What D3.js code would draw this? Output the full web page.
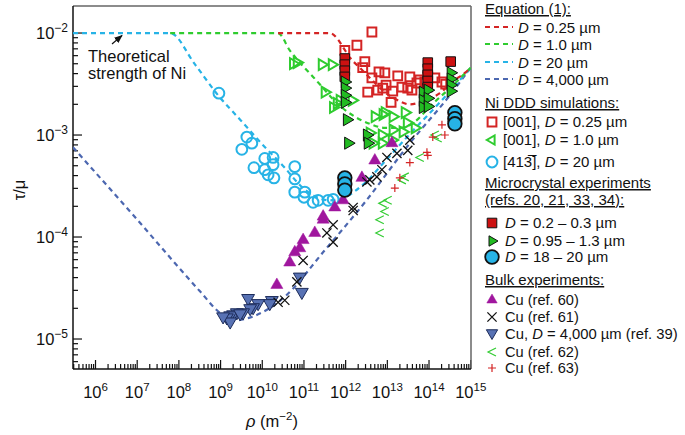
<!DOCTYPE html>
<html><head><meta charset="utf-8">
<script src="https://cdn.jsdelivr.net/npm/d3@7"></script>
<style>
body{margin:0;background:#fff}
svg{display:block}
text{font-family:"Liberation Sans",Arial,Helvetica,sans-serif;fill:#111}
</style>
</head><body>
<svg id="c" width="685" height="435"></svg>
<script>
// ---- data (all values as log10 exponents: [log10 rho (m^-2), log10 tau/mu]) ----
const xTickExps = [6,7,8,9,10,11,12,13,14,15];
const yTickExps = [-5,-4,-3,-2];

// Equation (1) curves
const eq025 = [[10.38,-2.00],[11.62,-2.00],[11.79,-2.05],[11.94,-2.14],[12.10,-2.24],[12.34,-2.34],[12.63,-2.46],[12.94,-2.58],[13.25,-2.66],[13.54,-2.70],[13.90,-2.66],[14.26,-2.59],[14.55,-2.48],[14.86,-2.39],[15.00,-2.34]];
const eq1 = [[7.79,-2.00],[10.38,-2.00],[10.66,-2.17],[10.90,-2.29],[11.22,-2.43],[11.46,-2.54],[11.70,-2.65],[11.94,-2.74],[12.22,-2.82],[12.58,-2.89],[12.94,-2.93],[13.30,-2.93],[13.66,-2.87],[14.02,-2.72],[14.50,-2.54],[15.00,-2.34]];
const eq20 = [[5.46,-2.00],[7.79,-2.00],[8.39,-2.31],[8.94,-2.61],[9.47,-2.85],[10.02,-3.10],[10.54,-3.32],[10.90,-3.49],[11.26,-3.60],[11.62,-3.64],[11.98,-3.61],[12.46,-3.47],[12.94,-3.26],[13.54,-2.99],[14.26,-2.68],[15.00,-2.34]];
const eq4000 = [[5.46,-3.12],[7.0,-3.83],[8.5,-4.53],[9.0,-4.75],[9.3,-4.82],[9.7,-4.79],[10.5,-4.60],[11.5,-4.13],[12.5,-3.64],[13.5,-3.10],[14.5,-2.61],[15.0,-2.34]];

// Ni DDD simulations
const ddd025 = [[12.63,-1.99],[12.27,-2.12],[11.98,-2.17],[12.46,-2.28],[12.41,-2.34],[12.80,-2.38],[12.63,-2.44],[13.25,-2.42],[13.54,-2.43],[12.53,-2.58],[12.77,-2.56],[12.97,-2.51],[13.13,-2.57],[13.09,-2.68],[13.49,-2.54],[13.71,-2.49],[13.78,-2.46],[13.97,-2.43],[14.14,-2.44],[14.31,-2.48],[13.35,-2.53],[12.89,-2.54],[13.90,-2.48],[13.59,-2.56],[12.94,-2.39],[14.40,-2.50]];
const ddd1 = [[10.74,-2.30],[10.83,-2.29],[11.43,-2.31],[11.67,-2.31],[11.50,-2.58],[11.79,-2.69],[11.70,-2.73],[12.15,-2.66],[11.86,-2.66],[12.70,-2.82],[12.89,-2.80],[13.42,-2.78],[13.47,-2.88],[13.66,-2.93],[13.37,-2.97],[12.58,-2.98],[12.87,-3.00],[13.13,-2.95],[12.65,-3.08],[12.87,-3.08],[13.11,-3.05],[12.94,-2.78],[13.13,-2.82]];
const ddd20 = [[8.96,-2.59],[9.63,-3.02],[9.75,-3.08],[9.51,-3.14],[10.06,-3.23],[10.26,-3.22],[10.26,-3.29],[9.80,-3.32],[10.06,-3.34],[10.14,-3.39],[10.28,-3.42],[10.78,-3.31],[10.78,-3.43],[10.78,-3.56],[11.02,-3.56],[11.00,-3.61],[11.22,-3.66],[11.34,-3.64],[11.58,-3.64],[11.70,-3.63]];

// Microcrystal experiments
const mc025 = [[11.98,-2.25],[11.98,-2.31],[11.98,-2.37],[11.98,-2.43],[13.97,-2.29],[13.97,-2.35],[13.97,-2.41],[13.97,-2.47],[13.97,-2.53],[14.52,-2.28]];
const mc1 = [[11.98,-2.48],[11.98,-2.54],[11.98,-2.61],[11.98,-2.68],[12.03,-2.85],[12.06,-3.08],[12.51,-3.00],[12.53,-3.08],[13.85,-2.58],[13.97,-2.56],[13.85,-2.66],[13.97,-2.64],[13.85,-2.73],[13.97,-2.72],[14.52,-2.39],[14.52,-2.45],[14.52,-2.51],[14.52,-2.57]];
const mc20 = [[11.98,-3.42],[11.98,-3.48],[11.98,-3.54],[14.62,-2.78],[14.62,-2.84],[14.62,-2.89]];

// Bulk experiments
const cu60 = [[10.35,-4.47],[10.66,-4.25],[10.78,-4.15],[10.90,-4.11],[10.98,-4.03],[11.26,-3.96],[11.46,-3.83],[11.46,-3.80],[11.74,-3.71],[11.94,-3.64],[12.39,-3.42],[12.70,-3.25],[13.11,-3.08]];
const cu61 = [[10.38,-4.64],[10.54,-4.62],[10.83,-4.44],[10.98,-4.23],[11.55,-3.96],[11.70,-4.05],[11.70,-3.88],[12.18,-3.71],[12.18,-3.74],[12.51,-3.46],[12.58,-3.44],[12.75,-3.41],[12.87,-3.34],[12.99,-3.22],[13.23,-3.18],[13.49,-3.15],[13.54,-3.05]];
const cu39 = [[10.90,-4.39],[10.95,-4.54],[10.23,-4.62],[10.18,-4.65],[9.90,-4.65],[9.78,-4.69],[9.66,-4.60],[9.71,-4.70],[9.54,-4.74],[9.39,-4.74],[9.30,-4.76],[9.23,-4.77],[9.15,-4.79],[9.23,-4.83],[9.47,-4.75],[9.06,-4.78]];
const cu62 = [[12.82,-3.96],[12.82,-3.83],[12.94,-3.75],[12.89,-3.67],[13.01,-3.64],[13.35,-3.44],[13.42,-3.41],[13.78,-3.22],[14.14,-3.00],[14.21,-3.03]];
const cu63 = [[13.18,-3.52],[13.30,-3.42],[13.54,-3.27],[13.95,-3.17],[13.97,-3.20],[14.09,-3.02],[14.31,-2.90],[14.38,-3.00]];

// ---- colours ----
const C = {red:"#d42424", green:"#2fcc2f", cyan:"#27b3e6", blue:"#4c67b0", magenta:"#a0169e", triBlue:"#5872b4"};

const svg = d3.select("#c");
const x = d3.scaleLog().domain([10**5.46, 10**15.007]).range([73, 471]);
const y = d3.scaleLog().domain([10**-5.294, 10**-1.735]).range([369, 6]);
const X = d => x(10**d[0]), Y = d => y(10**d[1]);

// clip
svg.append("clipPath").attr("id","clip").append("rect").attr("x",73).attr("y",6).attr("width",398).attr("height",363);

// ---- ticks ----
const axisG = svg.append("g");
for (let e = -6; e <= -2; e++) {
  for (let m = 1; m <= 9; m++) {
    const v = m * 10**e;
    if (v < y.domain()[0] || v > y.domain()[1]) continue;
    const len = m === 1 ? 9 : 5;
    axisG.append("line").attr("x1",73).attr("x2",73+len).attr("y1",y(v)).attr("y2",y(v)).attr("stroke","#111").attr("stroke-width",1.2);
  }
}
for (let e = 5; e <= 15; e++) {
  for (let m = 1; m <= 9; m++) {
    const v = m * 10**e;
    if (v < x.domain()[0] || v > x.domain()[1]*1.001) continue;
    const len = m === 1 ? 9 : 5;
    axisG.append("line").attr("y1",369).attr("y2",369-len).attr("x1",x(v)).attr("x2",x(v)).attr("stroke","#111").attr("stroke-width",1.2);
  }
}
// frame
svg.append("line").attr("x1",73).attr("x2",471).attr("y1",6).attr("y2",6).attr("stroke","#666").attr("stroke-width",1.5);
svg.append("line").attr("x1",471).attr("x2",471).attr("y1",6).attr("y2",369).attr("stroke","#666").attr("stroke-width",1.5);
svg.append("line").attr("x1",73).attr("x2",73).attr("y1",6).attr("y2",369).attr("stroke","#111").attr("stroke-width",1.5);
svg.append("line").attr("x1",73).attr("x2",471).attr("y1",369).attr("y2",369).attr("stroke","#111").attr("stroke-width",1.5);

// tick labels
xTickExps.forEach(e => {
  const t = svg.append("text").attr("x", x(10**e)).attr("y", 398).attr("text-anchor","middle").attr("font-size",16.5);
  t.append("tspan").text("10");
  t.append("tspan").attr("font-size",11.5).attr("dy",-7).text(e);
});
yTickExps.forEach(e => {
  const t = svg.append("text").attr("x", 68).attr("y", y(10**e)+6).attr("text-anchor","end").attr("font-size",16.5);
  t.append("tspan").text("10");
  t.append("tspan").attr("font-size",12).attr("dy",-7).text("\u2212" + Math.abs(e));
});

// axis titles
const xl = svg.append("text").attr("x",272).attr("y",427).attr("text-anchor","middle").attr("font-size",16.5);
xl.append("tspan").attr("font-style","italic").text("\u03c1");
xl.append("tspan").text(" (m");
xl.append("tspan").attr("font-size",11.5).attr("dy",-7).text("\u22122");
xl.append("tspan").attr("dy",7).text(")");
svg.append("text").attr("transform","translate(25,190) rotate(-90)").attr("text-anchor","middle").attr("font-size",16.5).text("\u03c4/\u03bc");

// ---- curves ----
const plotG = svg.append("g").attr("clip-path","url(#clip)");
const line = d3.line().x(X).y(Y).curve(d3.curveMonotoneX);
[[eq4000,C.blue],[eq20,C.cyan],[eq1,C.green],[eq025,C.red]].forEach(([d,c]) => {
  plotG.append("path").attr("d", line(d)).attr("fill","none").attr("stroke",c).attr("stroke-width",2.2).attr("stroke-dasharray","5,4");
});

// ---- marker shapes ----
function shapePath(kind, r) {
  const h = r*0.866;
  switch (kind) {
    case "square": return `M${-r},${-r}H${r}V${r}H${-r}Z`;
    case "triUp": return `M0,${-r}L${h},${r*0.5}L${-h},${r*0.5}Z`;
    case "triDown": return `M0,${r}L${h},${-r*0.5}L${-h},${-r*0.5}Z`;
    case "triRight": return `M${r},0L${-r*0.5},${h}L${-r*0.5},${-h}Z`;
    case "triLeft": return `M${-r},0L${r*0.5},${h}L${r*0.5},${-h}Z`;
    case "x": return `M${-r},${-r}L${r},${r}M${-r},${r}L${r},${-r}`;
    case "plus": return `M${-r},0H${r}M0,${-r}V${r}`;
    case "lt": return `M${r},${-r}L${-r},0L${r},${r}`;
  }
}
function drawMarker(g, cx, cy, st) {
  if (st.kind === "circle") {
    g.append("circle").attr("cx",cx).attr("cy",cy).attr("r",st.r).attr("fill",st.fill).attr("stroke",st.stroke).attr("stroke-width",st.sw);
  } else {
    g.append("path").attr("transform",`translate(${cx},${cy})`).attr("d",shapePath(st.kind, st.r)).attr("fill",st.fill).attr("stroke",st.stroke).attr("stroke-width",st.sw).attr("stroke-linejoin","miter");
  }
}
const styles = {
  ddd025: {kind:"square", r:4.4, fill:"none", stroke:C.red, sw:2},
  ddd1:   {kind:"triRight", r:6.2, fill:"none", stroke:C.green, sw:2},
  ddd1L:  {kind:"triLeft", r:6, fill:"none", stroke:C.green, sw:2},
  ddd20:  {kind:"circle", r:5.4, fill:"none", stroke:C.cyan, sw:2},
  mc025:  {kind:"square", r:4.8, fill:"#cc1111", stroke:"#111", sw:1},
  mc1:    {kind:"triRight", r:7, fill:"#22bb22", stroke:"#111", sw:1},
  mc20:   {kind:"circle", r:6.8, fill:C.cyan, stroke:"#111", sw:1.8},
  cu60:   {kind:"triUp", r:7, fill:C.magenta, stroke:C.magenta, sw:0.5},
  cu61:   {kind:"x", r:4.6, fill:"none", stroke:"#111", sw:1.3},
  cu39:   {kind:"triDown", r:7.4, fill:C.triBlue, stroke:"#1d2c5a", sw:1},
  cu62:   {kind:"lt", r:4, fill:"none", stroke:"#33cc33", sw:1.2},
  cu63:   {kind:"plus", r:4, fill:"none", stroke:C.red, sw:1.2}
};
const series = [
  [ddd20,"ddd20"],[ddd025,"ddd025"],[ddd1,"ddd1"],
  [cu39,"cu39"],[cu60,"cu60"],[cu61,"cu61"],[cu62,"cu62"],[cu63,"cu63"],
  [mc025,"mc025"],[mc1,"mc1"],[mc20,"mc20"]
];
series.forEach(([data,key]) => {
  const g = plotG.append("g");
  data.forEach(d => drawMarker(g, X(d), Y(d), styles[key]));
});

// ---- annotation ----
svg.append("defs").append("marker").attr("id","ah").attr("viewBox","0 0 10 10").attr("refX",9).attr("refY",5)
  .attr("markerWidth",7).attr("markerHeight",7).attr("orient","auto")
  .append("path").attr("d","M0,1L10,5L0,9Z").attr("fill","#111");
svg.append("line").attr("x1",112).attr("y1",44).attr("x2",122).attr("y2",35.5).attr("stroke","#111").attr("stroke-width",1.2).attr("marker-end","url(#ah)");
svg.append("text").attr("x",88).attr("y",62).attr("font-size",16.5).text("Theoretical");
svg.append("text").attr("x",88).attr("y",79).attr("font-size",16.5).text("strength of Ni");

// ---- legend ----
const L = svg.append("g");
const fs = 15;
function header(txt, yb) {
  L.append("text").attr("x",485).attr("y",yb).attr("font-size",fs).attr("text-decoration","underline").text(txt);
}
function richText(xp, yb, parts, size) {
  const t = L.append("text").attr("x",xp).attr("y",yb).attr("font-size",size || fs);
  parts.forEach(p => {
    const s = t.append("tspan").text(p[0]);
    if (p[1]) s.attr("font-style","italic");
  });
}
header("Equation (1):", 14);
const eqLeg = [[C.red,"0.25"],[C.green,"1.0"],[C.cyan,"20"],[C.blue,"4,000"]];
eqLeg.forEach(([c,v],i) => {
  const cy = [27,44,62,79][i];
  L.append("line").attr("x1",485).attr("x2",513).attr("y1",cy).attr("y2",cy).attr("stroke",c).attr("stroke-width",2.2).attr("stroke-dasharray","5,4");
  richText(518, cy+5.5, [["D",1],[" = "+v+" \u00b5m"]]);
});
header("Ni DDD simulations:", 108);
drawMarker(L, 492, 122, styles.ddd025);
richText(503, 127, [["[001], "],["D",1],[" = 0.25 \u00b5m"]]);
drawMarker(L, 492, 140, {...styles.ddd1L, r:5.2});
richText(503, 145, [["[001], "],["D",1],[" = 1.0 \u00b5m"]]);
drawMarker(L, 492, 162, styles.ddd20);
richText(503, 167, [["[41"],["3\u0305"],["], "],["D",1],[" = 20 \u00b5m"]]);
header("Microcrystal experiments", 188);
header("(refs. 20, 21, 33, 34):", 205);
drawMarker(L, 492, 223, styles.mc025);
richText(505, 228, [["D",1],[" = 0.2 \u2013 0.3 \u00b5m"]]);
drawMarker(L, 492, 241, {...styles.mc1, r:6});
richText(505, 246, [["D",1],[" = 0.95 \u2013 1.3 \u00b5m"]]);
drawMarker(L, 492, 257, styles.mc20);
richText(505, 262, [["D",1],[" = 18 \u2013 20 \u00b5m"]]);
header("Bulk experiments:", 285);
drawMarker(L, 492, 300, {...styles.cu60, r:6});
richText(505, 305, [["Cu (ref. 60)"]], 14.6);
drawMarker(L, 492, 317, styles.cu61);
richText(505, 322, [["Cu (ref. 61)"]], 14.6);
drawMarker(L, 492, 333, {...styles.cu39, r:6.5});
richText(505, 339, [["Cu, "],["D",1],[" = 4,000 \u00b5m (ref. 39)"]], 14.8);
drawMarker(L, 492, 352, styles.cu62);
richText(505, 356.5, [["Cu (ref. 62)"]], 14.6);
drawMarker(L, 492, 368, styles.cu63);
richText(505, 373, [["Cu (ref. 63)"]], 14.6);
</script>
</body></html>
